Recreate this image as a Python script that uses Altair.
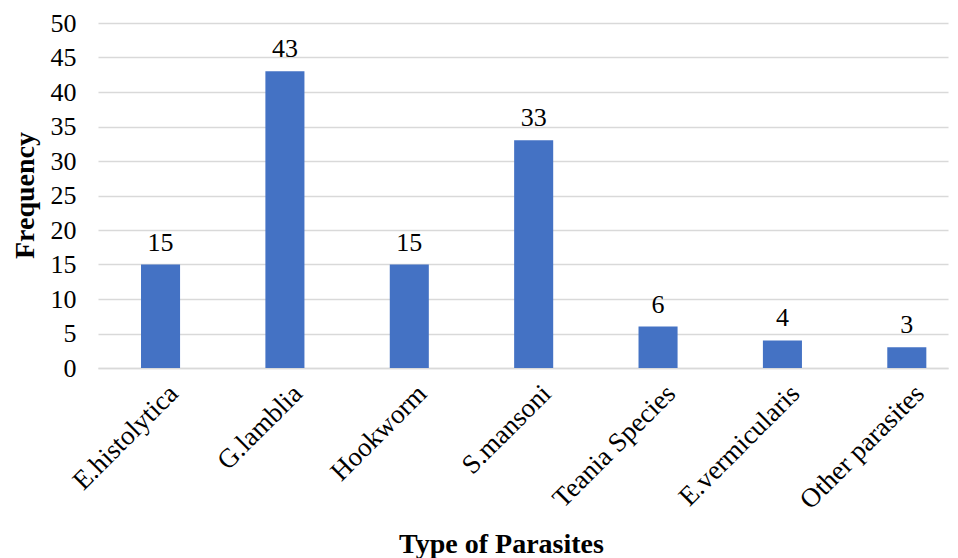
import altair as alt
import pandas as pd

parasites = ["E.histolytica", "G.lamblia", "Hookworm", "S.mansoni",
             "Teania Species", "E.vermicularis", "Other parasites"]
frequency = [15, 43, 15, 33, 6, 4, 3]

df = pd.DataFrame({"parasite": parasites, "freq": frequency})

FONT = "Times New Roman, Liberation Serif, serif"

base = alt.Chart(df).encode(
    x=alt.X("parasite:N", sort=parasites,
            scale=alt.Scale(paddingInner=0.686, paddingOuter=0.26, align=0.665),
            axis=alt.Axis(title="Type of Parasites", labelAngle=-45,
                          labelAlign="right", labelBaseline="top",
                          labelFontSize=27, grid=False,
                          labelPadding=12, labelOffset=4, ticks=False,
                          domainColor="#D9D9D9",
                          domainWidth=1.5, titleX=403, titleY=184,
                          titleBaseline="alphabetic")),
    y=alt.Y("freq:Q",
            scale=alt.Scale(domain=[0, 50], nice=False),
            axis=alt.Axis(title="Frequency", values=list(range(0, 55, 5)),
                          labelPadding=22, ticks=False, domain=False,
                          gridColor="#D9D9D9", gridWidth=1.5,
                          titleX=-73, titleY=172,
                          titleAngle=-90, titleAlign="center",
                          titleBaseline="middle")),
)

bars = base.mark_bar(color="#4472C4")
labels = base.mark_text(font=FONT, fontSize=26, color="#000000",
                        baseline="alphabetic", dy=-14).encode(text="freq:Q")

chart = (bars + labels).properties(
    width=850, height=345,
    autosize=alt.AutoSizeParams(type="none"),
    padding={"left": 90, "top": 15, "right": 2, "bottom": 190},
).configure(
    background="white", font=FONT
).configure_view(
    strokeWidth=0, stroke="transparent"
).configure_axis(
    labelFont=FONT, labelFontSize=26, labelColor="#000000",
    titleFont=FONT, titleFontSize=28, titleFontWeight="bold", titleColor="#000000",
)

chart.save("out.html", embed_options={"renderer": "svg", "actions": False})
